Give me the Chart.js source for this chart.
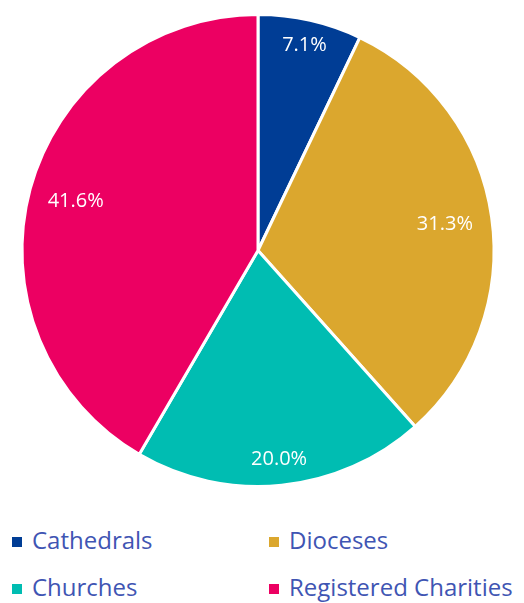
<!DOCTYPE html>
<html><head><meta charset="utf-8">
<script src="https://cdn.jsdelivr.net/npm/chart.js@4/dist/chart.umd.min.js"></script>
<style>
html,body{margin:0;padding:0;background:#fff;}
#wrap{position:relative;width:524px;height:603px;overflow:hidden;}
#c{position:absolute;left:0;top:0;}
.lg{position:absolute;font-family:"Open Sans",sans-serif;font-size:24px;color:#3f55b3;white-space:nowrap;line-height:24px;}
.lg span.sw{position:absolute;width:10px;height:10px;}
</style></head><body>
<div id="wrap"><canvas id="c" width="524" height="501"></canvas><div id="legend"></div></div>
<script>
const categories = ["Cathedrals", "Dioceses", "Churches", "Registered Charities"];
const shares = [7.1, 31.3, 20.0, 41.6];
const valueLabels = ["7.1%", "31.3%", "20.0%", "41.6%"];
const colors = ["#003d95", "#dba72e", "#00bdb2", "#ec0062"];

const labelPlugin = {
  id: 'sliceLabels',
  afterDatasetsDraw(chart, args, opts) {
    const ctx = chart.ctx;
    const meta = chart.getDatasetMeta(0);
    ctx.save();
    ctx.fillStyle = '#ffffff';
    ctx.font = '20px "Open Sans", sans-serif';
    ctx.textAlign = 'center';
    ctx.textBaseline = 'middle';
    meta.data.forEach((arc, i) => {
      const p = arc.getProps(['x','y','startAngle','endAngle','outerRadius'], true);
      const mid = (p.startAngle + p.endAngle) / 2;
      const r = p.outerRadius * opts.fractions[i];
      ctx.fillText(valueLabels[i], p.x + Math.cos(mid) * r, p.y + Math.sin(mid) * r);
    });
    ctx.restore();
  }
};

new Chart(document.getElementById('c'), {
  type: 'pie',
  data: {
    labels: categories,
    datasets: [{
      data: shares,
      backgroundColor: colors,
      borderColor: '#ffffff',
      borderWidth: 3,
      hoverOffset: 0,
      radius: 236
    }]
  },
  options: {
    responsive: false,
    animation: false,
    events: [],
    layout: { padding: { left: 0, right: 8, top: 0, bottom: 0 } },
    plugins: {
      legend: { display: false },
      tooltip: { enabled: false },
      sliceLabels: { fractions: [0.89, 0.8, 0.89, 0.8] }
    }
  },
  plugins: [labelPlugin]
});

// HTML legend in two columns
const legendPos = [[12, 528], [269, 528], [12, 575], [269, 575]];
const lg = document.getElementById('legend');
categories.forEach((name, i) => {
  const d = document.createElement('div');
  d.className = 'lg';
  d.style.left = (legendPos[i][0] + 20) + 'px';
  d.style.top = legendPos[i][1] + 'px';
  const sw = document.createElement('span');
  sw.className = 'sw';
  sw.style.background = colors[i];
  sw.style.left = '-20px';
  sw.style.top = '9px';
  d.appendChild(sw);
  d.appendChild(document.createTextNode(name));
  lg.appendChild(d);
});
</script>
</body></html>
